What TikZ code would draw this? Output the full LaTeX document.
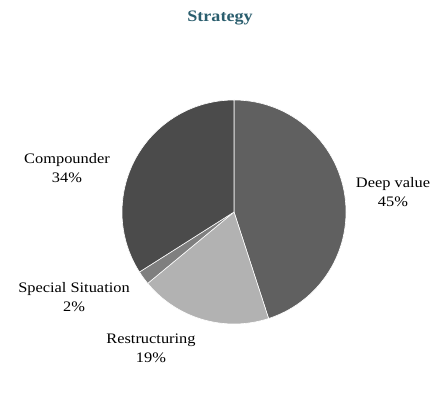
\documentclass[tikz,border=0pt]{standalone}
\usepackage{fontspec}
\setmainfont{Liberation Serif}[FakeStretch=1.13]
\definecolor{deepc}{HTML}{606060}
\definecolor{restc}{HTML}{B2B2B2}
\definecolor{specc}{HTML}{7F7F7F}
\definecolor{compc}{HTML}{4B4B4B}
\definecolor{titlec}{HTML}{2B5E6E}
\tikzset{
  slicebox/.style={draw=white, line width=0.6pt, line join=round},
  lbl/.style={align=center, inner sep=0pt, font=\fontsize{14.5}{19}\selectfont},
  ttl/.style={inner sep=0pt, font=\fontsize{16}{17}\selectfont\bfseries, text=titlec}
}
\begin{document}
\begin{tikzpicture}[x=1pt,y=1pt]
\useasboundingbox (0,0) rectangle (436,396);
\coordinate (c) at (234,184);
\def\R{112pt}
\fill[deepc, slicebox] (c) -- ++(90:\R) arc[start angle=90, end angle=-72, radius=\R] -- cycle;
\fill[restc, slicebox] (c) -- ++(-72:\R) arc[start angle=-72, end angle=-140.4, radius=\R] -- cycle;
\fill[specc, slicebox] (c) -- ++(-140.4:\R) arc[start angle=-140.4, end angle=-147.6, radius=\R] -- cycle;
\fill[compc, slicebox] (c) -- ++(-147.6:\R) arc[start angle=-147.6, end angle=-270, radius=\R] -- cycle;
\node[ttl] (title) at (220,378.5) {Strategy};
\node[lbl] (deep) at (393,203.5) {Deep value\\45\%};
\node[lbl] (rest) at (151,48) {Restructuring\\19\%};
\node[lbl] (spec) at (74,99) {Special Situation\\2\%};
\node[lbl] (comp) at (67,228) {Compounder\\34\%};
\end{tikzpicture}
\end{document}
